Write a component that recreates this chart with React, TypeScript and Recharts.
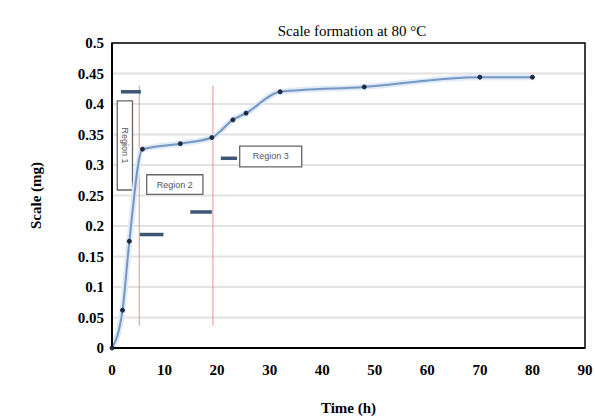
import React from "react";
import {
  LineChart,
  Line,
  XAxis,
  YAxis,
  CartesianGrid,
  ReferenceLine,
  ReferenceArea,
} from "recharts";

// time (h) and measured scale (mg)
const times = [0, 2, 3.3, 5.8, 13, 19, 23, 25.5, 32, 48, 70, 80];
const scale = [0, 0.062, 0.175, 0.326, 0.335, 0.345, 0.374, 0.385, 0.42, 0.428, 0.444, 0.444];

const xTicks = [0, 10, 20, 30, 40, 50, 60, 70, 80, 90];
const yTicks = [0, 0.05, 0.1, 0.15, 0.2, 0.25, 0.3, 0.35, 0.4, 0.45, 0.5];

// region boundaries (red lines)
const boundaryX = [5.2, 19.2];
const boundaryY = [0.037, 0.43];

// short dark markers: [x1, x2, y]
const markers = [
  [1.7, 5.5, 0.42],
  [5.3, 9.8, 0.186],
  [14.9, 19, 0.223],
  [20.7, 23.8, 0.311],
];

// region labels: [name, x1, x2, y1, y2, vertical]
const regions: [string, number, number, number, number, boolean][] = [
  ["Region 1", 1.0, 3.9, 0.259, 0.405, true],
  ["Region 2", 6.6, 17.3, 0.252, 0.284, false],
  ["Region 3", 24.3, 36.1, 0.297, 0.331, false],
];

const data = times.map((t, i) => ({ time: t, scale: scale[i] }));

const serif = "'Liberation Serif', 'DejaVu Serif', serif";

const RegionLabel = (props: any) => {
  const { viewBox, value, vertical } = props;
  const cx = viewBox.x + viewBox.width / 2;
  const cy = viewBox.y + viewBox.height / 2;
  return (
    <text
      x={cx}
      y={cy}
      textAnchor="middle"
      dominantBaseline="central"
      fontSize={9}
      fontFamily="Arial, sans-serif"
      fill="#555"
      transform={vertical ? `rotate(90 ${cx} ${cy})` : undefined}
    >
      {value}
    </text>
  );
};

const App: React.FC = () => {
  return (
    <div style={{ position: "absolute", left: 0, top: 0, background: "#fff" }}>
      <LineChart
        width={595}
        height={418}
        data={data}
        margin={{ top: 43, right: 10, bottom: 40, left: 62 }}
      >
        <text
          x={352}
          y={36}
          textAnchor="middle"
          fontFamily={serif}
          fontSize={15}
          fill="#000"
        >
          Scale formation at 80 °C
        </text>
        <CartesianGrid vertical={false} stroke="#e2e2e2" strokeWidth={2} />
        <XAxis
          type="number"
          dataKey="time"
          domain={[0, 90]}
          ticks={xTicks}
          height={30}
          tickLine={false}
          tickMargin={10}
          axisLine={{ stroke: "#000", strokeWidth: 2 }}
          tick={{ fill: "#000", fontFamily: serif, fontWeight: "bold", fontSize: 15 }}
          label={{
            value: "Time (h)",
            position: "insideBottom",
            offset: -35,
            fill: "#000",
            fontFamily: serif,
            fontWeight: "bold",
            fontSize: 15,
          }}
        />
        <YAxis
          type="number"
          domain={[0, 0.5]}
          ticks={yTicks}
          width={50}
          tickLine={false}
          axisLine={{ stroke: "#000", strokeWidth: 2 }}
          tick={{ fill: "#000", fontFamily: serif, fontWeight: "bold", fontSize: 15 }}
          label={{
            value: "Scale (mg)",
            angle: -90,
            position: "insideLeft",
            offset: -26,
            style: { textAnchor: "middle" },
            fill: "#000",
            fontFamily: serif,
            fontWeight: "bold",
            fontSize: 15,
          }}
        />
        <ReferenceArea
          x1={0}
          x2={90}
          y1={0}
          y2={0.5}
          fill="none"
          stroke="#000"
          strokeWidth={1.5}
          ifOverflow="visible"
        />
        {boundaryX.map((x) => (
          <ReferenceLine
            key={"b" + x}
            segment={[
              { x, y: boundaryY[0] },
              { x, y: boundaryY[1] },
            ]}
            stroke="#f4a0a0"
            strokeWidth={1.2}
          />
        ))}
        {markers.map((m, i) => (
          <ReferenceLine
            key={"m" + i}
            segment={[
              { x: m[0], y: m[2] },
              { x: m[1], y: m[2] },
            ]}
            stroke="#3d5675"
            strokeWidth={3.5}
          />
        ))}
        {regions.map((r) => (
          <ReferenceArea
            key={r[0]}
            x1={r[1]}
            x2={r[2]}
            y1={r[3]}
            y2={r[4]}
            fill="#fff"
            fillOpacity={1}
            stroke="#666"
            strokeWidth={1.3}
            label={<RegionLabel value={r[0]} vertical={r[5]} />}
          />
        ))}
        <Line
          type="monotone"
          dataKey="scale"
          stroke="#e0ebf7"
          strokeWidth={6}
          dot={false}
          activeDot={false}
          isAnimationActive={false}
        />
        <Line
          type="monotone"
          dataKey="scale"
          stroke="#7497c4"
          strokeWidth={2}
          dot={{ r: 2, fill: "#1e2a3a", stroke: "#1e2a3a", strokeWidth: 1 }}
          activeDot={false}
          isAnimationActive={false}
        />
      </LineChart>
    </div>
  );
};

export default App;
